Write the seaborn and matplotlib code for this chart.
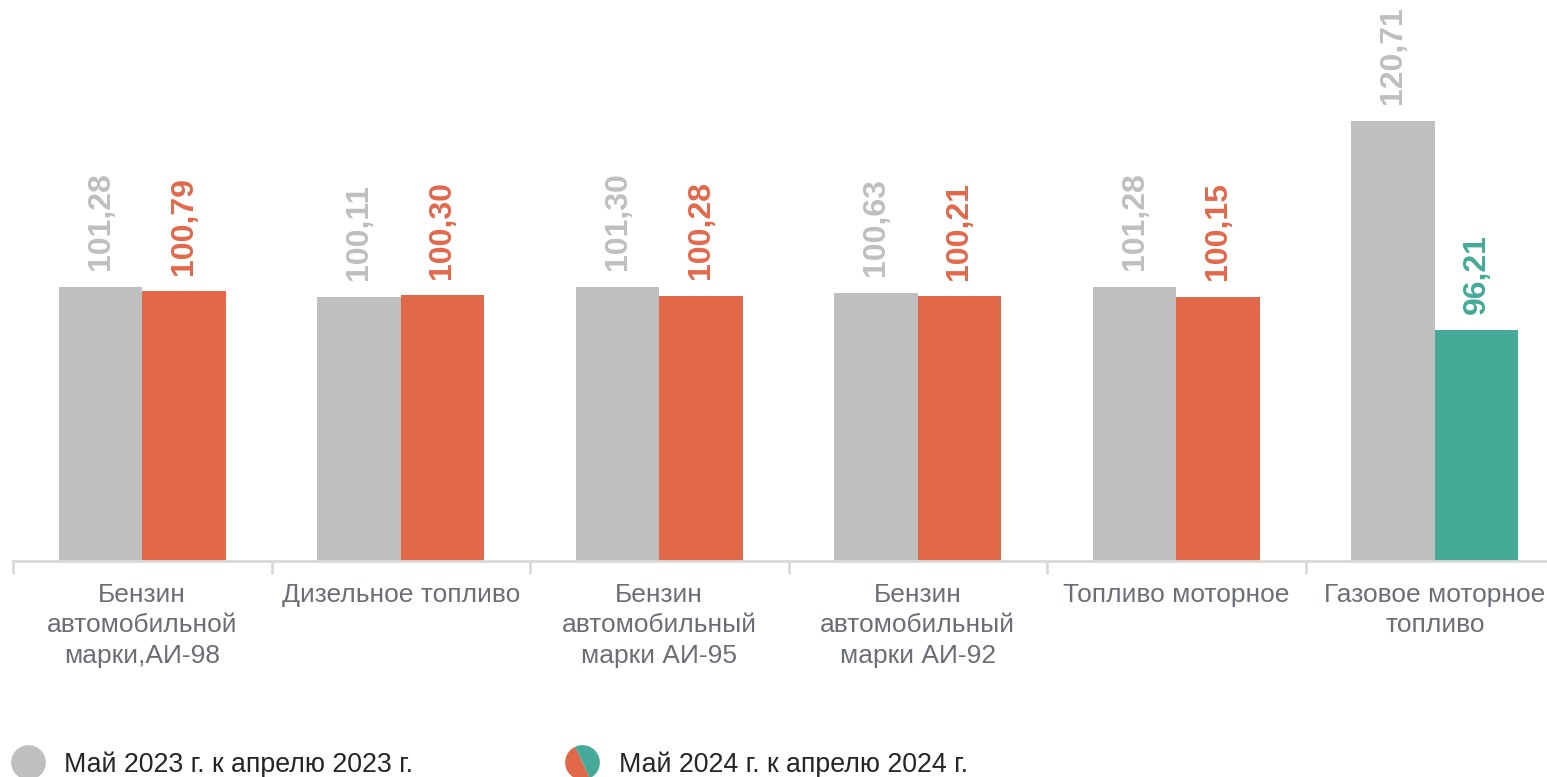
import matplotlib
matplotlib.use('Agg')
import matplotlib.pyplot as plt
import pandas as pd
import seaborn as sns
from matplotlib.lines import Line2D
from matplotlib.markers import MarkerStyle
from matplotlib.transforms import Affine2D

categories = [
    'Бензин\nавтомобильной\nмарки,АИ-98',
    'Дизельное топливо',
    'Бензин\nавтомобильный\nмарки АИ-95',
    'Бензин\nавтомобильный\nмарки АИ-92',
    'Топливо моторное',
    'Газовое моторное\nтопливо',
]
may_2023 = [101.28, 100.11, 101.30, 100.63, 101.28, 120.71]
may_2024 = [100.79, 100.30, 100.28, 100.21, 100.15, 96.21]
series_names = ['Май 2023 г. к апрелю 2023 г.', 'Май 2024 г. к апрелю 2024 г.']

GREY = '#bfbfbf'
ORANGE = '#e2684a'
TEAL = '#45aa98'

df = pd.DataFrame({
    'category': categories * 2,
    'value': may_2023 + may_2024,
    'series': [series_names[0]] * len(categories) + [series_names[1]] * len(categories),
})

sns.set_style('white')
plt.rcParams['font.family'] = ['Liberation Sans', 'DejaVu Sans']

fig = plt.figure(figsize=(15.47, 7.77), dpi=100)
ax = fig.add_axes([13 / 1547, 216 / 777, 1551 / 1547, 561 / 777])

sns.barplot(data=df, x='category', y='value', hue='series', order=categories,
            hue_order=series_names, palette=[GREY, ORANGE], width=0.646,
            saturation=1, legend=False, ax=ax)

# second series: growth in orange, decline in teal
for k, (cont, vals) in enumerate(zip(ax.containers, [may_2023, may_2024])):
    for bar, v in zip(cont, vals):
        if k == 0:
            col = GREY
        else:
            col = ORANGE if v >= 100 else TEAL
        bar.set_facecolor(col)
        bar.set_edgecolor('none')
        ax.annotate(f'{v:.2f}'.replace('.', ','),
                    (bar.get_x() + bar.get_width() / 2, bar.get_height()),
                    xytext=(0, 12), textcoords='offset points',
                    rotation=90, ha='center', va='bottom',
                    fontsize=23, fontweight='bold', color=col)

ax.set_ylim(69.2, 134.9)
ax.set_xlim(-0.5, 5.5)
ax.set_xlabel('')
ax.set_ylabel('')
ax.set_yticks([])
for side in ['top', 'right', 'left']:
    ax.spines[side].set_visible(False)
ax.spines['bottom'].set_color('#d9d9d9')
ax.spines['bottom'].set_linewidth(2)

ax.set_xticks(range(len(categories)))
ax.set_xticklabels(categories, fontsize=19, color='#6b6e76', linespacing=1.33, va='top')
ax.tick_params(axis='x', which='major', length=0, pad=16)
ax.set_xticks([i - 0.5 for i in range(len(categories) + 1)], minor=True)
ax.tick_params(axis='x', which='minor', bottom=True, length=9, width=2,
               color='#d9d9d9', direction='out')

split = MarkerStyle('o', fillstyle='left', transform=Affine2D().rotate_deg(25))
handles = [
    Line2D([], [], linestyle='none', marker='o', markersize=25,
           markerfacecolor=GREY, markeredgecolor='none'),
    Line2D([], [], linestyle='none', marker=split, markersize=25,
           markerfacecolor=ORANGE, markerfacecoloralt=TEAL, markeredgecolor='none'),
]
fig.legend(handles, series_names, loc='lower left', bbox_to_anchor=(-0.006, -0.032),
           ncol=2, frameon=False, fontsize=19.3, labelcolor='#262626',
           handlelength=1.0, handletextpad=0.85, columnspacing=5.8)

fig.savefig('out.png', dpi=100)
